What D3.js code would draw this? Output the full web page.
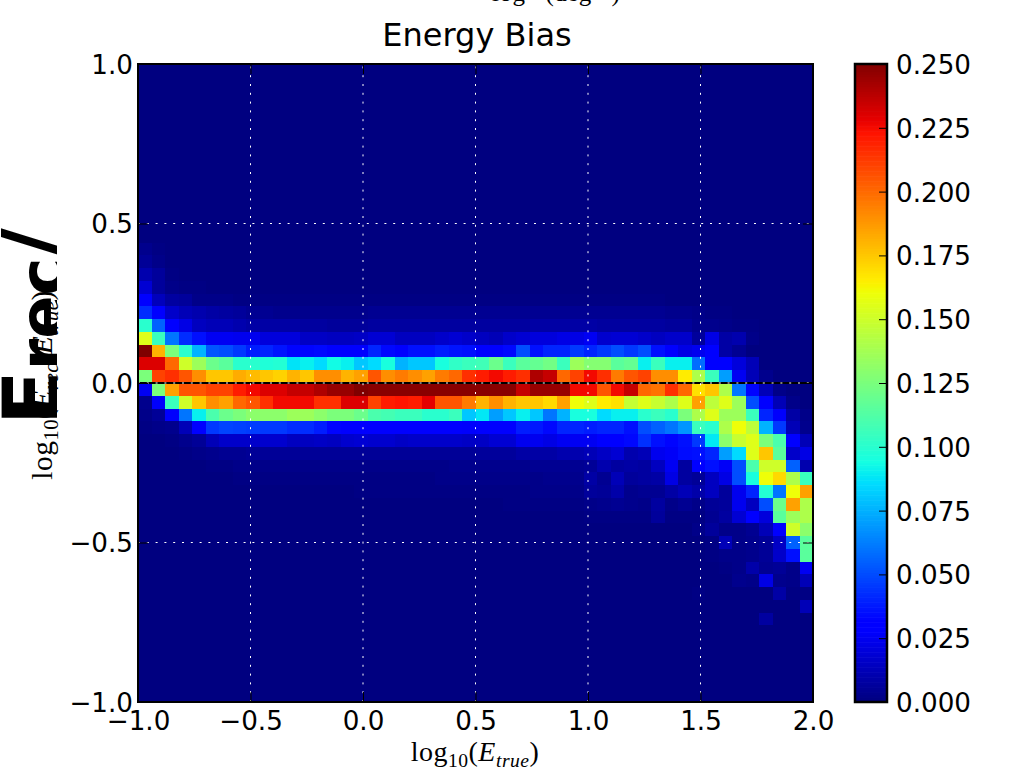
<!DOCTYPE html>
<html>
<head>
<meta charset="utf-8">
<script src="https://cdnjs.cloudflare.com/ajax/libs/d3/7.8.5/d3.min.js"></script>
<style>
    html, body { margin: 0; padding: 0; background: #fff; }
    svg { display: block; }
    .tick text { font-family: "DejaVu Sans", sans-serif; font-size: 26.2px; fill: #000; }
    .math { font-family: "Liberation Serif", serif; fill: #000; letter-spacing: 0.5px; }
</style>
</head>
<body>
<div id="chart-container"></div>
<script>
// Histogram bins, values are in thousandths of the colour scale unit
const xFirstBin = -1.0;
const xBinWidth = 0.06;
const yTopBin = 1.0;
const yBinHeight = 0.04;
const firstRow = 14; // rows above this one are empty

const xTicks = [-1.0, -0.5, 0.0, 0.5, 1.0, 1.5, 2.0];
const yTicks = [-1.0, -0.5, 0.0, 0.5, 1.0];
const gridX = [-0.5, 0.0, 0.5, 1.0, 1.5];
const gridY = [-0.5, 0.0, 0.5];
const barTicks = [0, 25, 50, 75, 100, 125, 150, 175, 200, 225, 250];

// Missing cells at the end of a row are zero
const row14 = [3, 1];
const row15 = [5, 2];
const row16 = [10, 6, 1];
const row17 = [18, 6, 2, 1, 1];
const row18 = [28, 13, 7, 6, 2, 2, 2, 1, 1, 1, 1, 1, 1, 1, 1, 1, 1, 1, 1, 1, 1, 1, 1, 1, 1, 1, 1, 1, 1, 1, 1, 1, 1, 1, 1, 1, 1, 1, 1];
const row19 = [42, 28, 16, 12, 10, 8, 7, 6, 4, 4, 3, 3, 3, 3, 3, 3, 3, 4, 4, 4, 4, 4, 4, 4, 4, 4, 4, 4, 4, 4, 4, 4, 4, 4, 4, 4, 4, 4, 4, 3, 3, 2, 1, 1];
const row20 = [100, 55, 30, 22, 14, 12, 12, 10, 8, 8, 8, 8, 7, 7, 6, 6, 6, 7, 7, 7, 7, 7, 7, 7, 7, 7, 7, 7, 7, 8, 8, 8, 8, 8, 7, 7, 7, 7, 7, 6, 6, 3, 3, 2, 1, 1];
const row21 = [155, 105, 60, 42, 35, 25, 25, 24, 24, 20, 20, 20, 15, 15, 14, 14, 15, 18, 18, 14, 14, 14, 16, 18, 16, 14, 12, 16, 18, 20, 20, 22, 22, 25, 17, 18, 18, 16, 14, 16, 16, 6, 22, 8, 10, 2];
const row22 = [250, 180, 125, 100, 75, 52, 50, 45, 38, 40, 36, 32, 32, 33, 28, 28, 28, 40, 33, 30, 35, 35, 38, 36, 35, 30, 28, 33, 50, 35, 40, 40, 45, 40, 45, 50, 45, 50, 35, 28, 22, 24, 30, 8, 4];
const row23 = [230, 230, 200, 150, 135, 120, 115, 100, 100, 97, 98, 87, 90, 85, 93, 90, 80, 85, 95, 75, 80, 80, 95, 102, 105, 107, 120, 105, 115, 118, 122, 105, 135, 128, 128, 115, 118, 90, 105, 90, 90, 58, 28, 28, 20, 12];
const row24 = [125, 210, 215, 205, 190, 175, 175, 182, 178, 175, 172, 180, 175, 190, 190, 180, 185, 205, 190, 195, 190, 185, 195, 200, 215, 220, 225, 220, 215, 240, 235, 200, 210, 225, 215, 195, 205, 210, 190, 190, 165, 140, 105, 70, 25, 12, 3];
const row25 = [25, 125, 185, 205, 205, 210, 210, 220, 225, 230, 230, 235, 235, 240, 245, 245, 250, 248, 248, 248, 248, 248, 248, 248, 248, 248, 248, 248, 235, 245, 245, 245, 225, 225, 205, 225, 235, 200, 197, 215, 200, 168, 175, 140, 60, 32, 12, 2];
const row26 = [3, 27, 105, 150, 175, 190, 185, 200, 205, 215, 225, 225, 225, 215, 215, 230, 230, 210, 220, 222, 220, 228, 205, 205, 195, 180, 190, 180, 175, 175, 170, 185, 160, 155, 165, 168, 147, 155, 148, 140, 155, 185, 145, 155, 135, 50, 28, 12, 2];
const row27 = [2, 5, 27, 60, 90, 110, 120, 125, 130, 130, 130, 135, 135, 130, 125, 125, 120, 110, 108, 105, 105, 100, 100, 105, 80, 88, 70, 80, 90, 80, 60, 75, 95, 95, 85, 90, 90, 100, 105, 100, 125, 140, 155, 135, 135, 105, 40, 27, 8, 2];
const row28 = [1, 2, 3, 12, 30, 45, 48, 47, 46, 45, 45, 42, 42, 38, 32, 30, 28, 30, 30, 30, 30, 30, 30, 30, 27, 28, 30, 28, 38, 37, 33, 40, 40, 38, 40, 40, 35, 50, 55, 60, 68, 105, 100, 140, 160, 145, 75, 45, 12, 3];
const row29 = [0, 0, 1, 3, 5, 12, 16, 16, 16, 17, 17, 14, 14, 15, 14, 17, 18, 17, 17, 15, 16, 16, 16, 16, 15, 15, 18, 18, 24, 24, 22, 25, 25, 25, 30, 28, 33, 43, 35, 32, 35, 45, 88, 130, 148, 155, 125, 110, 30, 12];
const row30 = [0, 0, 0, 1, 2, 3, 4, 4, 5, 5, 5, 5, 5, 5, 5, 5, 5, 5, 5, 5, 5, 5, 5, 5, 5, 6, 6, 6, 8, 8, 8, 10, 10, 12, 15, 18, 10, 12, 24, 26, 34, 35, 40, 70, 85, 155, 175, 115, 16, 22];
const row31 = [0, 0, 0, 0, 0, 1, 1, 2, 2, 2, 2, 2, 2, 2, 2, 2, 2, 2, 2, 2, 2, 2, 2, 3, 3, 3, 3, 3, 3, 4, 4, 4, 4, 5, 10, 7, 8, 7, 14, 25, 7, 30, 35, 26, 50, 110, 150, 150, 55, 10];
const row32 = [0, 0, 0, 0, 0, 0, 0, 1, 1, 1, 1, 1, 1, 1, 1, 1, 1, 1, 1, 1, 1, 1, 2, 2, 2, 2, 2, 2, 2, 2, 3, 3, 3, 8, 4, 12, 6, 7, 8, 22, 7, 5, 14, 22, 50, 95, 160, 170, 140, 105];
const row33 = [0, 0, 0, 0, 0, 0, 0, 0, 0, 0, 0, 0, 0, 0, 0, 0, 1, 1, 1, 1, 1, 1, 1, 1, 1, 1, 1, 1, 1, 2, 2, 2, 2, 6, 5, 9, 3, 4, 4, 8, 12, 9, 14, 6, 24, 40, 98, 60, 160, 185];
const row34 = [0, 0, 0, 0, 0, 0, 0, 0, 0, 0, 0, 0, 0, 0, 0, 0, 0, 0, 0, 0, 0, 0, 0, 0, 0, 0, 0, 1, 1, 1, 1, 1, 1, 2, 3, 4, 3, 2, 7, 2, 4, 2, 5, 6, 24, 14, 50, 120, 185, 140];
const row35 = [0, 0, 0, 0, 0, 0, 0, 0, 0, 0, 0, 0, 0, 0, 0, 0, 0, 0, 0, 0, 0, 0, 0, 0, 0, 0, 0, 0, 0, 0, 0, 0, 0, 1, 1, 1, 1, 1, 6, 1, 1, 1, 4, 7, 18, 28, 20, 115, 135, 140];
const row36 = [0, 0, 0, 0, 0, 0, 0, 0, 0, 0, 0, 0, 0, 0, 0, 0, 0, 0, 0, 0, 0, 0, 0, 0, 0, 0, 0, 0, 0, 0, 0, 0, 0, 0, 0, 0, 0, 0, 0, 0, 0, 2, 6, 2, 2, 4, 12, 28, 150, 130];
const row37 = [0, 0, 0, 0, 0, 0, 0, 0, 0, 0, 0, 0, 0, 0, 0, 0, 0, 0, 0, 0, 0, 0, 0, 0, 0, 0, 0, 0, 0, 0, 0, 0, 0, 0, 0, 0, 0, 0, 0, 0, 0, 0, 1, 12, 2, 3, 5, 15, 55, 115];
const row38 = [0, 0, 0, 0, 0, 0, 0, 0, 0, 0, 0, 0, 0, 0, 0, 0, 0, 0, 0, 0, 0, 0, 0, 0, 0, 0, 0, 0, 0, 0, 0, 0, 0, 0, 0, 0, 0, 0, 0, 0, 0, 0, 1, 2, 2, 3, 5, 16, 35, 115];
const row39 = [0, 0, 0, 0, 0, 0, 0, 0, 0, 0, 0, 0, 0, 0, 0, 0, 0, 0, 0, 0, 0, 0, 0, 0, 0, 0, 0, 0, 0, 0, 0, 0, 0, 0, 0, 0, 0, 0, 0, 0, 0, 0, 0, 1, 2, 9, 4, 5, 2, 25];
const row40 = [0, 0, 0, 0, 0, 0, 0, 0, 0, 0, 0, 0, 0, 0, 0, 0, 0, 0, 0, 0, 0, 0, 0, 0, 0, 0, 0, 0, 0, 0, 0, 0, 0, 0, 0, 0, 0, 0, 0, 0, 0, 0, 0, 0, 3, 2, 22, 3, 2, 12];
const row41 = [0, 0, 0, 0, 0, 0, 0, 0, 0, 0, 0, 0, 0, 0, 0, 0, 0, 0, 0, 0, 0, 0, 0, 0, 0, 0, 0, 0, 0, 0, 0, 0, 0, 0, 0, 0, 0, 0, 0, 0, 0, 1, 0, 0, 0, 0, 0, 8, 1, 1];
const row42 = [0, 0, 0, 0, 0, 0, 0, 0, 0, 0, 0, 0, 0, 0, 0, 0, 0, 0, 0, 0, 0, 0, 0, 0, 0, 0, 0, 0, 0, 0, 0, 0, 0, 0, 0, 0, 0, 0, 0, 0, 0, 0, 0, 0, 0, 0, 0, 0, 0, 12];
const row43 = [0, 0, 0, 0, 0, 0, 0, 0, 0, 0, 0, 0, 0, 0, 0, 0, 0, 0, 0, 0, 0, 0, 0, 0, 0, 0, 0, 0, 0, 0, 0, 0, 0, 0, 0, 0, 0, 0, 0, 0, 0, 0, 0, 0, 0, 0, 7];
const rows = [row14, row15, row16, row17, row18, row19, row20, row21, row22, row23, row24, row25, row26, row27, row28, row29, row30, row31, row32, row33, row34, row35, row36, row37, row38, row39, row40, row41, row42, row43];

const width = 1015;
const height = 770;
const plot = { left: 138, right: 813, top: 64, bottom: 702 };
const bar = { left: 855, right: 887 };

const x = d3.scaleLinear().domain([-1, 2]).range([plot.left, plot.right]);
const y = d3.scaleLinear().domain([-1, 1]).range([plot.bottom, plot.top]);
const barY = d3.scaleLinear().domain([0, 250]).range([plot.bottom, plot.top]);

// matplotlib's jet colormap, one scale per channel
const jetR = d3.scaleLinear().domain([0, 0.35, 0.66, 0.89, 1]).range([0, 0, 1, 1, 0.5]);
const jetG = d3.scaleLinear().domain([0, 0.125, 0.375, 0.64, 0.91, 1]).range([0, 0, 1, 1, 0, 0]);
const jetB = d3.scaleLinear().domain([0, 0.11, 0.34, 0.65, 1]).range([0.5, 1, 1, 0, 0]);
const jet = t => d3.rgb(jetR(t) * 255, jetG(t) * 255, jetB(t) * 255).formatRgb();
const color = d3.scaleLinear().domain([0, 250]).range([0, 1]).clamp(true);

const svg = d3.select("#chart-container")
    .append("svg")
    .attr("width", width)
    .attr("height", height);

// Background cell colour for the empty part of the histogram
svg.append("rect")
    .attr("x", x(-1)).attr("y", y(1))
    .attr("width", x(2) - x(-1)).attr("height", y(-1) - y(1))
    .attr("fill", jet(0));

rows.forEach((row, i) => {
    const top = yTopBin - (firstRow + i) * yBinHeight;
    svg.append("g")
        .selectAll("rect")
        .data(row)
        .enter()
        .append("rect")
        .attr("x", (d, j) => x(xFirstBin + j * xBinWidth))
        .attr("y", y(top))
        .attr("width", x(xBinWidth) - x(0))
        .attr("height", y(0) - y(yBinHeight))
        .attr("fill", d => jet(color(d)))
        .attr("shape-rendering", "crispEdges");
});

// Zero line sits under the dotted grid
svg.append("line")
    .attr("x1", x(-1)).attr("x2", x(2))
    .attr("y1", y(0)).attr("y2", y(0))
    .attr("stroke", "#000")
    .attr("stroke-width", 2);

svg.append("g")
    .selectAll("line")
    .data(gridX)
    .enter()
    .append("line")
    .attr("x1", d => x(d)).attr("x2", d => x(d))
    .attr("y1", y(-1)).attr("y2", y(1))
    .attr("stroke", "#fff")
    .attr("stroke-width", 1)
    .attr("stroke-dasharray", "2,6.8");

svg.append("g")
    .selectAll("line")
    .data(gridY)
    .enter()
    .append("line")
    .attr("x1", x(-1)).attr("x2", x(2))
    .attr("y1", d => y(d)).attr("y2", d => y(d))
    .attr("stroke", "#fff")
    .attr("stroke-width", 1)
    .attr("stroke-dasharray", "2,6.8");

// Axes, ticks point inward on all four sides
const f1 = d3.format(".1f");
const addAxis = (axis, tx, ty, labels) => {
    const g = svg.append("g")
        .attr("transform", `translate(${tx},${ty})`)
        .call(axis);
    g.select(".domain").remove();
    g.selectAll(".tick line").attr("stroke", "#000").attr("stroke-width", 1);
    if (!labels) g.selectAll(".tick text").remove();
    return g;
};
addAxis(d3.axisBottom(x).tickValues(xTicks).tickFormat(f1).tickSizeInner(-10).tickSizeOuter(0).tickPadding(8), 0, plot.bottom, true)
    .selectAll(".tick text").attr("dy", "0.76em");
addAxis(d3.axisTop(x).tickValues(xTicks).tickSizeInner(-10).tickSizeOuter(0), 0, plot.top, false);
addAxis(d3.axisLeft(y).tickValues(yTicks).tickFormat(f1).tickSizeInner(-10).tickSizeOuter(0).tickPadding(5), plot.left, 0, true)
    .selectAll(".tick text").attr("dy", "0.36em");
addAxis(d3.axisRight(y).tickValues(yTicks).tickSizeInner(-10).tickSizeOuter(0), plot.right, 0, false);

svg.append("rect")
    .attr("x", plot.left).attr("y", plot.top)
    .attr("width", plot.right - plot.left).attr("height", plot.bottom - plot.top)
    .attr("fill", "none").attr("stroke", "#000").attr("stroke-width", 2);

// Colour bar
const barSteps = d3.range(0, 250, 250 / 256);
svg.append("g")
    .selectAll("rect")
    .data(barSteps)
    .enter()
    .append("rect")
    .attr("x", bar.left)
    .attr("y", d => barY(d + 250 / 256))
    .attr("width", bar.right - bar.left)
    .attr("height", barY(0) - barY(250 / 256) + 0.6)
    .attr("fill", d => jet(color(d)));

addAxis(d3.axisRight(barY).tickValues(barTicks).tickFormat(d => d3.format(".3f")(d / 1000)).tickSizeInner(-8).tickSizeOuter(0).tickPadding(9), bar.right, 0, true)
    .selectAll(".tick text").attr("dy", "0.36em");

svg.append("rect")
    .attr("x", bar.left).attr("y", plot.top)
    .attr("width", bar.right - bar.left).attr("height", plot.bottom - plot.top)
    .attr("fill", "none").attr("stroke", "#000").attr("stroke-width", 2.5);

// Title and the label clipped by the top of the figure
svg.append("text")
    .attr("x", 477).attr("y", 46)
    .attr("text-anchor", "middle")
    .attr("font-family", "DejaVu Sans")
    .attr("font-size", 32)
    .text("Energy Bias");

const mathLabel = (g, size, parts) => {
    const t = g.append("text").attr("class", "math").attr("font-size", size);
    parts.forEach(p => {
        t.append("tspan")
            .attr("font-size", size * (p.scale || 1))
            .attr("font-style", p.italic ? "italic" : "normal")
            .attr("dx", p.gap || 0)
            .attr("dy", (p.shift || 0) * size)
            .text(p.text);
    });
    return t;
};

mathLabel(svg.append("g"), 25, [
    { text: "log" }, { text: "(deg", gap: 20 }, { text: "\u22122", scale: 0.7, shift: -0.35 }, { text: ")", shift: 0.35 }
]).attr("x", 492).attr("y", 1);

const xLabel = mathLabel(svg.append("g"), 28, [
    { text: "log" }, { text: "10", scale: 0.7, shift: 0.2 }, { text: "(", shift: -0.2 },
    { text: "E", italic: true }, { text: "true", italic: true, scale: 0.7, shift: 0.2 }, { text: ")", shift: -0.2 }
]);
xLabel.attr("x", 475).attr("y", 761).attr("text-anchor", "middle");

const yLabel = mathLabel(svg.append("g").attr("transform", "translate(52,385) rotate(-90)"), 29.5, [
    { text: "log" }, { text: "10", scale: 0.7, shift: 0.2 }, { text: "(", shift: -0.2 },
    { text: "E", italic: true }, { text: "rec", italic: true, scale: 0.7, shift: 0.2 }, { text: "/", shift: -0.2 },
    { text: "E", italic: true }, { text: "true", italic: true, scale: 0.7, shift: 0.2 }, { text: ")", shift: -0.2 }
]);
yLabel.attr("text-anchor", "middle");

// Oversized bold label, cut off along its baseline
svg.append("clipPath").attr("id", "big-clip")
    .append("rect").attr("x", 0).attr("y", 0).attr("width", 57).attr("height", height);

const big = svg.append("g")
    .attr("clip-path", "url(#big-clip)")
    .append("text")
    .attr("transform", "translate(60,425) rotate(-90)")
    .attr("font-family", "DejaVu Sans")
    .attr("font-weight", "bold")
    .attr("font-size", 80);
big.append("tspan").text("E");
big.append("tspan").attr("font-size", 64).attr("dy", 5).text("rec");
big.append("tspan").attr("dy", -5).text("/");
</script>
</body>
</html>
